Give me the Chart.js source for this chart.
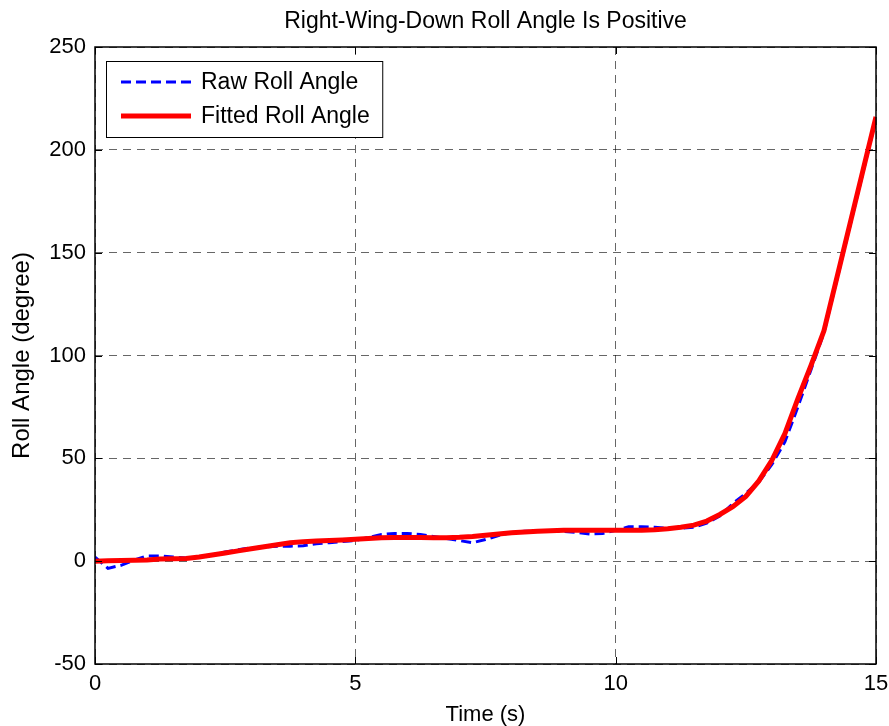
<!DOCTYPE html>
<html><head><meta charset="utf-8">
<script src="https://cdn.jsdelivr.net/npm/chart.js@4.4.1/dist/chart.umd.min.js"></script>
<style>html,body{margin:0;padding:0;background:#fff;} canvas{display:block;}</style>
</head><body>
<canvas id="c" width="889" height="726"></canvas>
<script>
const chartTitle = 'Right-Wing-Down Roll Angle Is Positive';
const xAxisTitle = 'Time (s)';
const yAxisTitle = 'Roll Angle (degree)';
const seriesLabels = ['Raw Roll Angle', 'Fitted Roll Angle'];
const xTickValues = [0, 5, 10, 15];
const yTickValues = [-50, 0, 50, 100, 150, 200, 250];

const timeSec = [0, 0.25, 0.5, 0.75, 1, 1.25, 1.5, 1.75, 2, 2.25, 2.5, 2.75, 3, 3.25, 3.5, 3.75,
  4, 4.25, 4.5, 4.75, 5, 5.25, 5.5, 5.75, 6, 6.25, 6.5, 6.75, 7, 7.25, 7.5, 7.75,
  8, 8.25, 8.5, 8.75, 9, 9.25, 9.5, 9.75, 10, 10.25, 10.5, 10.75, 11, 11.25, 11.5, 11.75,
  12, 12.25, 12.5, 12.75, 13, 13.25, 13.5, 13.75, 14, 14.25, 14.5, 14.75, 15];

const rawRollAngle = [2, -3.5, -2, 0.5, 2.5, 2.5, 2, 1.5, 2, 3, 4.5, 5.5, 6.5, 7, 7.2, 7.3,
  7.5, 8.5, 9, 9.5, 10, 11.5, 13, 13.5, 13.5, 13, 12, 11, 10, 9, 10.5, 12.5,
  14, 14.5, 14.6, 14.5, 14.5, 14, 13.2, 13.5, 15, 16.7, 16.7, 16.5, 16, 16, 16.5, 18.5,
  22, 28, 33, 38.5, 47, 58, 75, 93, 111, 137, 163, 189, 215];

const fittedRollAngle = [0, 0.2, 0.3, 0.4, 0.6, 1, 1.2, 1.3, 2, 3, 4, 5, 6, 7, 8, 9,
  9.5, 9.8, 10, 10.3, 10.6, 11, 11.4, 11.5, 11.5, 11.5, 11.4, 11.4, 11.6, 12, 12.6, 13.2,
  13.8, 14.2, 14.5, 14.8, 15, 15, 15, 15, 15, 15, 15, 15.3, 15.8, 16.5, 17.5, 19.5,
  22.7, 26.5, 31.5, 39, 49, 62, 79, 95, 112, 138, 164, 190, 216];

const FONT = "'Liberation Sans', Arial, Helvetica, sans-serif";
Chart.defaults.font.family = FONT;
Chart.defaults.color = '#000';

const toPoints = ys => timeSec.map((t, i) => ({ x: t, y: ys[i] }));

const boxPlugin = {
  id: 'matlabBox',
  afterDatasetsDraw(chart) {
    const { ctx } = chart;
    ctx.save();
    ctx.font = '23px ' + FONT;
    const ds = chart.data.datasets.slice().sort((p, q) => p.legendIndex - q.legendIndex);
    const textX = 201, lineX0 = 121, lineX1 = 191;
    const rows = [82, 116];
    let maxW = 0;
    ds.forEach(d => { maxW = Math.max(maxW, ctx.measureText(d.label).width); });
    const bx = 106.5, by = 61.5, bw = textX + maxW + 13 - bx, bh = 76;
    ctx.fillStyle = '#fff';
    ctx.fillRect(bx, by, bw, bh);
    ctx.strokeStyle = '#000';
    ctx.lineWidth = 1;
    ctx.setLineDash([]);
    ctx.strokeRect(bx, by, bw, bh);
    ds.forEach((d, i) => {
      const y = rows[i];
      ctx.beginPath();
      ctx.strokeStyle = d.borderColor;
      ctx.lineWidth = d.borderWidth;
      ctx.setLineDash(d.borderDash || []);
      ctx.moveTo(lineX0, y);
      ctx.lineTo(lineX1, y);
      ctx.stroke();
      ctx.setLineDash([]);
      ctx.fillStyle = '#000';
      ctx.textBaseline = 'middle';
      ctx.textAlign = 'left';
      ctx.fillText(d.label, textX, y + 1);
    });
    ctx.restore();
  },
  afterDraw(chart) {
    const { ctx, chartArea: a, scales } = chart;
    ctx.save();
    ctx.strokeStyle = '#000';
    ctx.lineWidth = 1.5;
    ctx.setLineDash([]);
    ctx.strokeRect(a.left, a.top, a.right - a.left, a.bottom - a.top);
    ctx.lineWidth = 1;
    const tl = 7;
    ctx.beginPath();
    yTickValues.forEach(v => {
      const py = Math.round(scales.y.getPixelForValue(v)) + 0.5;
      ctx.moveTo(a.left, py); ctx.lineTo(a.left + tl, py);
      ctx.moveTo(a.right, py); ctx.lineTo(a.right - tl, py);
    });
    xTickValues.forEach(v => {
      const px = Math.round(scales.x.getPixelForValue(v)) + 0.5;
      ctx.moveTo(px, a.bottom); ctx.lineTo(px, a.bottom - tl);
      ctx.moveTo(px, a.top); ctx.lineTo(px, a.top + tl);
    });
    ctx.stroke();
    ctx.restore();
  }
};

new Chart(document.getElementById('c'), {
  type: 'line',
  data: {
    datasets: [
      {
        label: seriesLabels[1],
        legendIndex: 1,
        data: toPoints(fittedRollAngle),
        borderColor: '#ff0000',
        borderWidth: 5,
        pointRadius: 0,
        tension: 0,
        fill: false,
        order: 1
      },
      {
        label: seriesLabels[0],
        legendIndex: 0,
        data: toPoints(rawRollAngle),
        borderColor: '#0000ff',
        borderWidth: 3,
        borderDash: [10, 5],
        pointRadius: 0,
        tension: 0,
        fill: false,
        order: 2
      }
    ]
  },
  options: {
    responsive: false,
    animation: false,
    layout: { padding: { top: 0, right: 13, bottom: 0, left: 0 } },
    plugins: {
      legend: { display: false },
      tooltip: { enabled: false },
      title: {
        display: true,
        text: chartTitle,
        fullSize: false,
        color: '#000',
        font: { size: 23, weight: 'normal', lineHeight: 1.2 },
        padding: { top: 8, bottom: 11.4 }
      }
    },
    scales: {
      x: {
        type: 'linear',
        min: xTickValues[0],
        max: xTickValues[xTickValues.length - 1],
        afterBuildTicks: s => { s.ticks = xTickValues.map(v => ({ value: v })); },
        afterFit: s => { s.height = 62; s.paddingLeft = 0; s.paddingRight = 0; },
        border: { display: false, dash: [8, 6] },
        grid: { color: 'rgba(0,0,0,0.6)', lineWidth: 1, drawTicks: false },
        ticks: { font: { size: 22 }, padding: 7, maxRotation: 0, color: '#000' },
        title: { display: true, text: xAxisTitle, color: '#000', font: { size: 22, lineHeight: 1 }, padding: { top: 0, bottom: 0 } }
      },
      y: {
        type: 'linear',
        min: yTickValues[0],
        max: yTickValues[yTickValues.length - 1],
        afterBuildTicks: s => { s.ticks = yTickValues.map(v => ({ value: v })); },
        afterFit: s => { s.width = 95; s.paddingTop = 0; s.paddingBottom = 0; },
        border: { display: false, dash: [8, 6] },
        grid: { color: 'rgba(0,0,0,0.6)', lineWidth: 1, drawTicks: false },
        ticks: { font: { size: 22 }, padding: 9, color: '#000' },
        title: { display: true, text: yAxisTitle, color: '#000', font: { size: 24, lineHeight: 1.2 }, padding: { top: 8, bottom: 0 } }
      }
    }
  },
  plugins: [boxPlugin]
});
</script>
</body></html>
